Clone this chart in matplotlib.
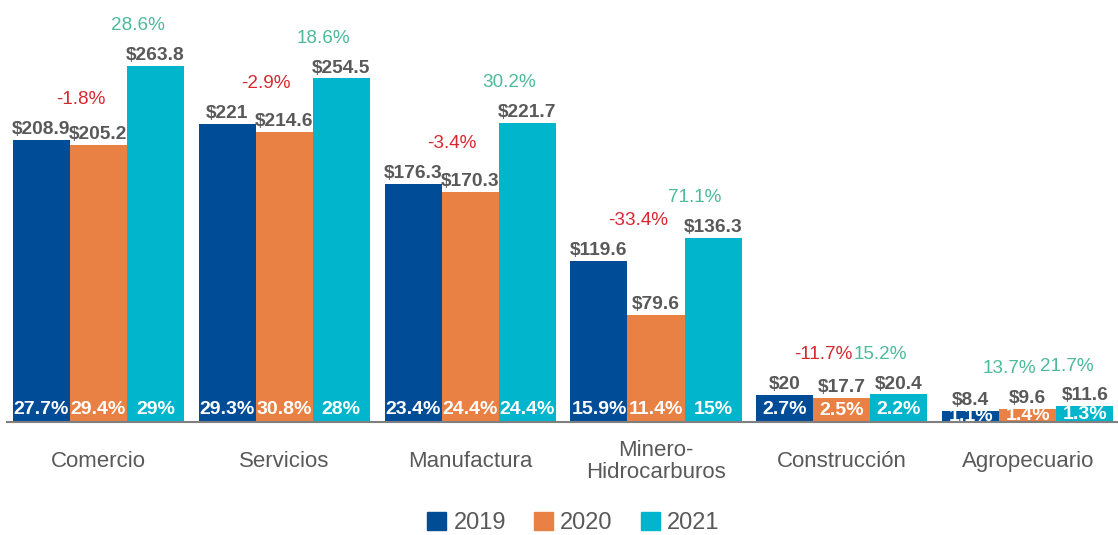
import numpy as np
import matplotlib.pyplot as plt
from matplotlib.patches import Patch

plt.rcParams['font.family'] = ['Liberation Sans', 'DejaVu Sans']

# Datos
sectores = ['Comercio', 'Servicios', 'Manufactura', 'Minero-\nHidrocarburos',
            'Construcción', 'Agropecuario']
anios = ['2019', '2020', '2021']
v2019 = [208.9, 221, 176.3, 119.6, 20, 8.4]
v2020 = [205.2, 214.6, 170.3, 79.6, 17.7, 9.6]
v2021 = [263.8, 254.5, 221.7, 136.3, 20.4, 11.6]
part2019 = [27.7, 29.3, 23.4, 15.9, 2.7, 1.1]
part2020 = [29.4, 30.8, 24.4, 11.4, 2.5, 1.4]
part2021 = [29, 28, 24.4, 15, 2.2, 1.3]
var2020 = [-1.8, -2.9, -3.4, -33.4, -11.7, 13.7]
var2021 = [28.6, 18.6, 30.2, 71.1, 15.2, 21.7]

colores = ['#004C97', '#E88143', '#00B5CC']
gris = '#595959'
rojo = '#D7282F'
verde = '#4DBA9A'

valores = [v2019, v2020, v2021]
partes = [part2019, part2020, part2021]

fig = plt.figure(figsize=(11.18, 5.35), dpi=100)
ax = fig.add_axes([0.0063, 0.2112, 0.9937, 0.7888])

x = np.arange(len(sectores))
w = 0.307

for k in range(3):
    xs = x + (k - 1) * w
    ax.bar(xs, valores[k], width=w, color=colores[k])
    for xi, v, p in zip(xs, valores[k], partes[k]):
        ax.annotate(f'${v:g}', (xi, v), xytext=(0, 7.5), textcoords='offset points',
                    ha='center', va='center', fontsize=13.8, fontweight='bold', color=gris)
        ax.text(xi, min(v / 2, 9.6), f'{p:g}%', ha='center', va='center',
                fontsize=14, fontweight='bold', color='white')

# variaciones anuales
for k, var in [(1, var2020), (2, var2021)]:
    xs = x + (k - 1) * w
    for i, (xi, g) in enumerate(zip(xs, var)):
        base = max(valores[k - 1][i], valores[k][i])
        ax.annotate(f'{g:g}%', (xi, base), xytext=(-13, 29), textcoords='offset points',
                    ha='center', va='center', fontsize=13.6,
                    color=rojo if g < 0 else verde)

ax.set_xlim(-0.492, 5.486)
ax.set_ylim(0, 312.6)
ax.set_yticks([])
ax.set_xticks(x)
ax.set_xticklabels(sectores, fontsize=16, color=gris, va='center', linespacing=1.05)
ax.tick_params(axis='x', length=0, pad=28.5)
for s in ['top', 'right', 'left']:
    ax.spines[s].set_visible(False)
ax.spines['bottom'].set_color('#7f7f7f')
ax.spines['bottom'].set_linewidth(1.5)

handles = [Patch(color=c) for c in colores]
fig.legend(handles, anios, loc='center', bbox_to_anchor=(0.513, 0.022), ncol=3,
           frameon=False, fontsize=17, labelcolor=gris, handlelength=0.8,
           handleheight=0.8, handletextpad=0.3, columnspacing=1.2)

fig.savefig('out.png', dpi=100)
